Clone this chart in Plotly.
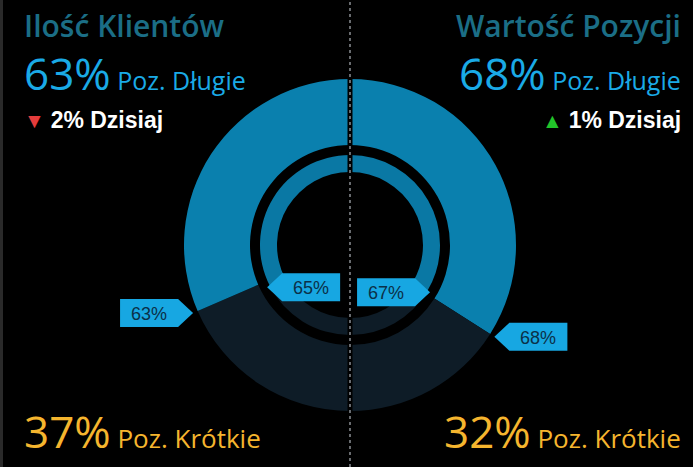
import math
import plotly.graph_objects as go

# ---- data ----
panels = ["Ilość Klientów", "Wartość Pozycji"]
long_outer = [63, 68]      # Poz. Długie (%)
short_outer = [37, 32]     # Poz. Krótkie (%)
long_inner = [65, 67]      # inner ring (%)
change_today = [-2, 1]     # Dzisiaj (%)
long_label = "Poz. Długie"
short_label = "Poz. Krótkie"
today_label = "Dzisiaj"

# ---- geometry / style ----
W, H = 693, 467
CX, CY = 350, 245
R_OUT, R_OUT_HOLE = 166, 100
R_IN, R_IN_HOLE = 90, 73
BLUE_OUT = "#0a80ae"
BLUE_IN = "#0a78a4"
DARK = "#0e1c27"
CALLOUT = "#17a7e2"
CALLOUT_TXT = "#0b3048"
TITLE_C = "#1b6e86"
LONG_C = "#1aaae6"
SHORT_C = "#f5b52e"
FONT = "Open Sans"
CLEAR = "rgba(0,0,0,0)"


def px(x):
    return x / W


def py(y):
    return 1 - y / H


def domain(r):
    return dict(x=[px(CX - r), px(CX + r)], y=[py(CY + r), py(CY - r)])


def half(long_v, i):
    # all drawn clockwise from 12 o'clock
    if i == 0:
        return [100, 100 - long_v, long_v], [CLEAR, DARK, None]
    return [long_v, 100 - long_v, 100], [None, DARK, CLEAR]


fig = go.Figure()

for i in range(2):
    for lv, r, hole, blue in [(long_outer[i], R_OUT, R_OUT_HOLE, BLUE_OUT),
                              (long_inner[i], R_IN, R_IN_HOLE, BLUE_IN)]:
        vals, cols = half(lv, i)
        cols = [blue if c is None else c for c in cols]
        fig.add_trace(go.Pie(
            values=vals, labels=[f"{i}-{r}-{k}" for k in range(3)],
            marker=dict(colors=cols, line=dict(width=0)),
            hole=hole / r, sort=False, direction="clockwise", rotation=0,
            textinfo="none", hoverinfo="skip", showlegend=False,
            domain=domain(r),
        ))

shapes = [
    dict(type="line", xref="paper", yref="paper", x0=px(CX), x1=px(CX), y0=0, y1=1,
         line=dict(color="black", width=5)),
    dict(type="line", xref="paper", yref="paper", x0=px(CX), x1=px(CX), y0=0, y1=1,
         line=dict(color="#8a8f94", width=1.5, dash="dot")),
    dict(type="line", xref="paper", yref="paper", x0=px(1.5), x1=px(1.5), y0=0, y1=1,
         line=dict(color="#2a2a2a", width=3)),
]
annotations = []

BODY_W, ARROW, BOX_H = 58, 15, 28


def callout(value, side, r, outward):
    theta = math.radians(180 * value / 100)
    sgn = -1 if side == 0 else 1
    tx = CX + sgn * r * math.sin(theta)
    ty = CY - r * math.cos(theta)
    d = sgn if outward else -sgn
    x_near = tx + d * ARROW
    x_far = x_near + d * BODY_W
    pts = [(tx, ty), (x_near, ty - BOX_H / 2), (x_far, ty - BOX_H / 2),
           (x_far, ty + BOX_H / 2), (x_near, ty + BOX_H / 2)]
    path = "M " + " L ".join(f"{px(x):.5f},{py(y):.5f}" for x, y in pts) + " Z"
    shapes.append(dict(type="path", xref="paper", yref="paper", path=path,
                       fillcolor=CALLOUT, line=dict(width=0)))
    annotations.append(dict(x=px((x_near + x_far) / 2), y=py(ty + 1), xref="paper", yref="paper",
                            text=f"{value}%", showarrow=False, xanchor="center", yanchor="middle",
                            font=dict(family="Liberation Sans", size=18, color=CALLOUT_TXT)))


for i in range(2):
    callout(long_outer[i], i, R_OUT + 5, True)
    callout(long_inner[i], i, R_IN + 3, False)

# ---- texts ----
for i in range(2):
    x = px(22) if i == 0 else px(683)
    anchor = "left" if i == 0 else "right"
    annotations.append(dict(x=x, y=py(26), xref="paper", yref="paper", xanchor=anchor, yanchor="middle",
                            showarrow=False, text=panels[i],
                            font=dict(family=FONT, size=30, color=TITLE_C, weight=600)))
    annotations.append(dict(x=x, y=py(73), xref="paper", yref="paper", xanchor=anchor, yanchor="middle",
                            showarrow=False,
                            text=f"{long_outer[i]}%<span style='font-size:25px'> {long_label}</span>",
                            font=dict(family=FONT, size=44, color=LONG_C)))
    ch = change_today[i]
    tri = "<span style='color:#e43c3c;font-size:21px'>▼ </span>" if ch < 0 else \
          "<span style='color:#22c42a;font-size:21px'>▲ </span>"
    annotations.append(dict(x=x, y=py(120), xref="paper", yref="paper", xanchor=anchor, yanchor="middle",
                            showarrow=False,
                            text=f"{tri}<b>{abs(ch)}% {today_label}</b>",
                            font=dict(family="Liberation Sans", size=23, color="white")))
    annotations.append(dict(x=x, y=py(431), xref="paper", yref="paper", xanchor=anchor, yanchor="middle",
                            showarrow=False,
                            text=f"{short_outer[i]}%<span style='font-size:26px'> {short_label}</span>",
                            font=dict(family=FONT, size=44, color=SHORT_C)))

fig.update_layout(
    width=W, height=H, margin=dict(l=0, r=0, t=0, b=0),
    paper_bgcolor="black", plot_bgcolor="black",
    shapes=shapes, annotations=annotations, showlegend=False,
)

fig.write_html("out.html")
